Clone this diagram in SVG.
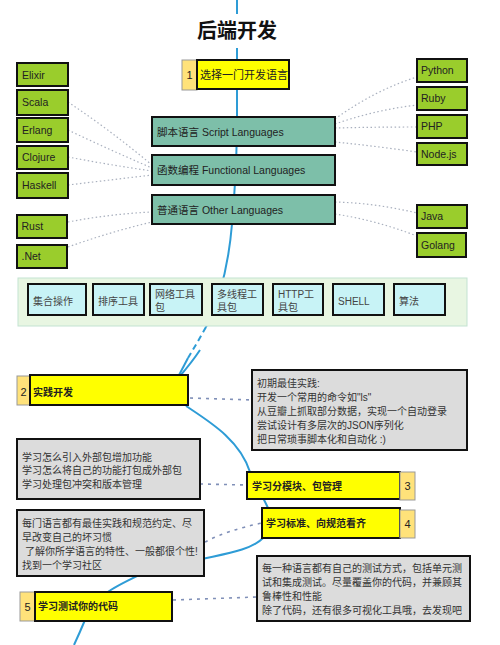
<svg xmlns="http://www.w3.org/2000/svg" width="500" height="645" viewBox="0 0 500 645">
<style>
text{font-family:"Liberation Sans","Noto Sans CJK SC",sans-serif;fill:#222}
.g rect{fill:#9ACD2C;stroke:#111;stroke-width:2}
.g text{font-size:10.5px}
.t rect{fill:#7DBFA9;stroke:#111;stroke-width:2}
.t text{font-size:10.5px}
.c rect{fill:#C8F3F6;stroke:#111;stroke-width:2}
.c text{font-size:10px;fill:#444}
.gr rect{fill:#DCDCDC;stroke:#111;stroke-width:2}
.gr text{font-size:10px;fill:#333}
.y .m{fill:#FFFF00;stroke:#111;stroke-width:2}
.y .n{fill:#FFE27A;stroke:#999;stroke-width:1}
.y text{font-size:10px;font-weight:bold}
.y .num{font-size:11px;font-weight:normal;text-anchor:middle}
.dot{fill:none;stroke:#A9B0BE;stroke-width:1.2;stroke-dasharray:1.5 2.5}
.dash{fill:none;stroke:#8090B8;stroke-width:1.6;stroke-dasharray:3 5}
.sp{fill:none;stroke:#2E9CD6;stroke-width:2}
</style>

<g id="connectors">
  <!-- spine -->
  <path class="sp" d="M237,0 L237,60"/>
  <path class="sp" d="M237,89 L237,130 Q236,180 232,224 C229,260 222,295 206,327"/>
  <path class="sp" d="M206,327 C200,338 194,348 188,358" stroke-dasharray="6 4"/>
  <path class="sp" d="M188,358 L178,377"/>
  <path class="sp" d="M180,376 Q192,362 200,350"/>
  <path class="sp" d="M186,406 C210,422 240,440 250,472 C256,485 262,495 268,508"/>
  <path class="sp" d="M263,538 C250,552 215,555 190,562 C165,568 145,572 137,576 C125,582 112,588 105,594"/>
  <path class="sp" d="M85,620 Q80,632 74,645"/>
  <!-- left functional -->
  <path class="dot" d="M68,102 Q110,130 152,165"/>
  <path class="dot" d="M68,130 Q110,150 152,168"/>
  <path class="dot" d="M68,157 Q110,165 152,171"/>
  <path class="dot" d="M68,185 Q110,180 152,175"/>
  <!-- left other -->
  <path class="dot" d="M68,222 Q110,214 152,212"/>
  <path class="dot" d="M68,247 Q110,232 152,222"/>
  <!-- right script -->
  <path class="dot" d="M335,119 Q375,90 417,77"/>
  <path class="dot" d="M335,124 Q375,110 417,105"/>
  <path class="dot" d="M335,128 Q375,127 417,127"/>
  <path class="dot" d="M335,142 Q375,146 417,152"/>
  <!-- right other -->
  <path class="dot" d="M335,202 Q375,203 417,213"/>
  <path class="dot" d="M335,214 Q375,220 417,236"/>
  <!-- lower -->
  <path class="dash" d="M190,398 L252,400"/>
  <path class="dash" d="M200,484 L247,485"/>
  <path class="dash" d="M205,542 Q228,530 262,523"/>
  <path class="dash" d="M173,600 L257,597"/>
</g>

<g id="title">
  <rect x="195" y="14" width="84" height="34" fill="#fff"/>
  <text x="197" y="38" style="font-size:20px;font-weight:bold;fill:#111">后端开发</text>
</g>

<g id="n1" class="y">
  <rect class="n" x="182" y="60" width="15" height="30"/>
  <rect class="m" x="197" y="60" width="92" height="29"/>
  <text class="num" x="189.5" y="79">1</text>
  <text x="200" y="79" style="font-size:11px;font-weight:normal">选择一门开发语言</text>
</g>

<g id="elixir" class="g"><rect x="17" y="63" width="51" height="23"/><text x="22" y="78.5">Elixir</text></g>
<g id="scala" class="g"><rect x="17" y="90" width="51" height="25"/><text x="22" y="106">Scala</text></g>
<g id="erlang" class="g"><rect x="17" y="118" width="51" height="24"/><text x="22" y="134">Erlang</text></g>
<g id="clojure" class="g"><rect x="17" y="146" width="51" height="23"/><text x="22" y="161">Clojure</text></g>
<g id="haskell" class="g"><rect x="17" y="173" width="51" height="25"/><text x="22" y="189">Haskell</text></g>
<g id="rust" class="g"><rect x="17" y="215" width="50" height="23"/><text x="21.5" y="230">Rust</text></g>
<g id="net" class="g"><rect x="17" y="245" width="50" height="23"/><text x="21.5" y="260">.Net</text></g>

<g id="python" class="g"><rect x="417" y="59" width="50" height="23"/><text x="421" y="74">Python</text></g>
<g id="ruby" class="g"><rect x="417" y="87" width="50" height="23"/><text x="421" y="102">Ruby</text></g>
<g id="php" class="g"><rect x="417" y="115" width="50" height="23"/><text x="421" y="130">PHP</text></g>
<g id="nodejs" class="g"><rect x="417" y="143" width="50" height="22"/><text x="421" y="158">Node.js</text></g>
<g id="java" class="g"><rect x="417" y="205" width="50" height="23"/><text x="421" y="220">Java</text></g>
<g id="golang" class="g"><rect x="417" y="233" width="49" height="24"/><text x="421" y="249">Golang</text></g>

<g id="script" class="t"><rect x="152" y="117" width="183" height="29"/><text x="157" y="135.5">脚本语言 Script Languages</text></g>
<g id="functional" class="t"><rect x="152" y="155" width="183" height="30"/><text x="157" y="174">函数编程  Functional Languages</text></g>
<g id="other" class="t"><rect x="152" y="195" width="183" height="29"/><text x="157" y="213.5">普通语言 Other Languages</text></g>

<g id="panel">
  <rect x="18" y="278" width="449" height="48" fill="#E8F6E2" stroke="#C3E3D2" stroke-width="1"/>
</g>
<g id="set" class="c"><rect x="28" y="284" width="58" height="31"/><text x="33" y="305">集合操作</text></g>
<g id="sort" class="c"><rect x="93" y="284" width="51" height="31"/><text x="98" y="305">排序工具</text></g>
<g id="net-tools" class="c"><rect x="150" y="284" width="52" height="31"/><text x="155" y="298">网络工具</text><text x="155" y="311">包</text></g>
<g id="thread" class="c"><rect x="212" y="284" width="51" height="31"/><text x="217" y="298">多线程工</text><text x="217" y="311">具包</text></g>
<g id="http" class="c"><rect x="273" y="284" width="50" height="31"/><text x="278" y="298">HTTP工</text><text x="278" y="311">具包</text></g>
<g id="shell" class="c"><rect x="333" y="284" width="51" height="31"/><text x="338" y="305">SHELL</text></g>
<g id="algo" class="c"><rect x="394" y="284" width="51" height="31"/><text x="399" y="305">算法</text></g>

<g id="n2" class="y">
  <rect class="n" x="17" y="376" width="13" height="29"/>
  <rect class="m" x="30" y="375" width="158" height="30"/>
  <text class="num" x="23.5" y="395.5">2</text>
  <text x="33" y="395.5">实践开发</text>
</g>

<g id="practice" class="gr">
  <rect x="252" y="370" width="215" height="80"/>
  <text x="257" y="386.5">初期最佳实践:</text>
  <text x="257" y="400.5">开发一个常用的命令如"ls"</text>
  <text x="257" y="414.5">从豆瓣上抓取部分数据，实现一个自动登录</text>
  <text x="257" y="429">尝试设计有多层次的JSON序列化</text>
  <text x="257" y="443">把日常琐事脚本化和自动化 :)</text>
</g>

<g id="packages" class="gr">
  <rect x="17" y="439" width="183" height="60"/>
  <text x="22" y="460.5">学习怎么引入外部包增加功能</text>
  <text x="22" y="474">学习怎么将自己的功能打包成外部包</text>
  <text x="22" y="487.5">学习处理包冲突和版本管理</text>
</g>

<g id="n3" class="y">
  <rect class="m" x="247" y="472" width="153" height="27"/>
  <rect class="n" x="400" y="472" width="15" height="28"/>
  <text class="num" x="407.5" y="489.5">3</text>
  <text x="252" y="489.5">学习分模块、包管理</text>
</g>

<g id="n4" class="y">
  <rect class="m" x="262" y="508" width="138" height="30"/>
  <rect class="n" x="400" y="510" width="15" height="28"/>
  <text class="num" x="407.5" y="528">4</text>
  <text x="266" y="527">学习标准、向规范看齐</text>
</g>

<g id="standards" class="gr">
  <rect x="17" y="510" width="187" height="66"/>
  <text x="22" y="526.5">每门语言都有最佳实践和规范约定、尽</text>
  <text x="22" y="540.5">早改变自己的坏习惯</text>
  <text x="25" y="554.5">了解你所学语言的特性、一般都很个性!</text>
  <text x="22" y="568.5">找到一个学习社区</text>
</g>

<g id="testing" class="gr">
  <rect x="257" y="556" width="213" height="65"/>
  <text x="262" y="571.5">每一种语言都有自己的测试方式，包括单元测</text>
  <text x="262" y="585.5">试和集成测试。尽量覆盖你的代码，并兼顾其</text>
  <text x="262" y="599.5">鲁棒性和性能</text>
  <text x="262" y="613.5">除了代码，还有很多可视化工具哦，去发现吧</text>
</g>

<g id="n5" class="y">
  <rect class="n" x="20" y="592" width="15" height="29"/>
  <rect class="m" x="35" y="592" width="137" height="29"/>
  <text class="num" x="27.5" y="610.5">5</text>
  <text x="38" y="610">学习测试你的代码</text>
</g>
</svg>
